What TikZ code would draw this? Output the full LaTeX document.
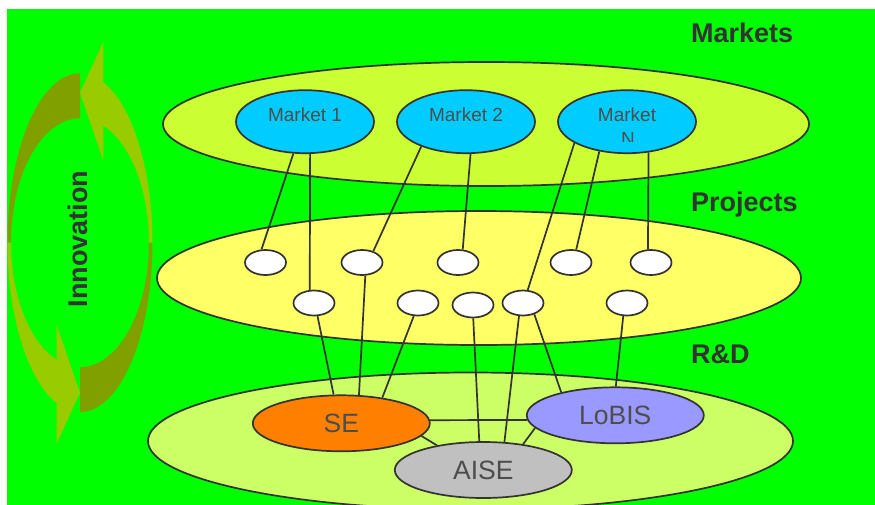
\documentclass[tikz,border=0pt]{standalone}
\usepackage{fontspec}
\setmainfont{Liberation Sans}
\usetikzlibrary{shapes.geometric}
\definecolor{bggreen}{HTML}{00FF00}
\definecolor{mktfill}{HTML}{CCFF33}
\definecolor{prjfill}{HTML}{FFFF66}
\definecolor{rdfill}{HTML}{CCFF66}
\definecolor{mnode}{HTML}{00CCFF}
\definecolor{sefill}{HTML}{FF8000}
\definecolor{lobisfill}{HTML}{9999FF}
\definecolor{aisefill}{HTML}{C0C0C0}
\definecolor{linec}{HTML}{333333}
\definecolor{headc}{HTML}{333333}
\definecolor{labc}{HTML}{4D4D4D}
\definecolor{olivedark}{RGB}{128,160,0}
\definecolor{olivelight}{HTML}{99CC00}
\begin{document}
\begin{tikzpicture}[x=1pt,y=-1pt,
  ell/.style={ellipse, draw=linec, line width=1.7pt, inner sep=0pt},
  bigell/.style={ell, minimum width=646pt, minimum height=126pt},
  mkt/.style={ell, fill=mnode, minimum width=138pt, minimum height=63pt},
  prj/.style={ell, fill=white, minimum width=41pt, minimum height=25pt},
  rd/.style={ell, minimum width=177pt, minimum height=56pt, text=labc,
     font=\fontsize{26.5}{30}\selectfont},
  mtext/.style={anchor=base, text=labc, inner sep=0pt, font=\fontsize{19}{22}\selectfont},
  head/.style={anchor=base west, inner sep=0pt, text=headc, font=\bfseries\fontsize{27}{32}\selectfont},
  conn/.style={draw=linec, line width=1.7pt}
]
\useasboundingbox (0,0) rectangle (875,504);
\fill[white] (0,0) rectangle (875,504);
\fill[bggreen] (7,9) rectangle (890,540);

% innovation cycle arrows
\fill[olivedark] plot[domain=270:180, samples=40, variable=\t] ({80+72.5*cos(\t)},{242.7+169.4*sin(\t)})
  -- plot[domain=180:270, samples=40, variable=\t] ({80+69*cos(\t)},{242.7+124.4*sin(\t)}) -- cycle;
\fill[olivelight] plot[domain=180:108.7, samples=40, variable=\t] ({80+72.5*cos(\t)},{242.7+169.4*sin(\t)})
  -- (56.7,443.3) -- (80,392.7) -- (56.7,325) -- (56.7,359.8)
  -- plot[domain=109.7:180, samples=40, variable=\t] ({80+69*cos(\t)},{242.7+124.4*sin(\t)}) -- cycle;
\begin{scope}[rotate around={180:(80,242.7)}]
  \fill[olivedark] plot[domain=270:180, samples=40, variable=\t] ({80+72.5*cos(\t)},{242.7+169.4*sin(\t)})
    -- plot[domain=180:270, samples=40, variable=\t] ({80+69*cos(\t)},{242.7+124.4*sin(\t)}) -- cycle;
  \fill[olivelight] plot[domain=180:108.7, samples=40, variable=\t] ({80+72.5*cos(\t)},{242.7+169.4*sin(\t)})
    -- (56.7,443.3) -- (80,392.7) -- (56.7,325) -- (56.7,359.8)
    -- plot[domain=109.7:180, samples=40, variable=\t] ({80+69*cos(\t)},{242.7+124.4*sin(\t)}) -- cycle;
\end{scope}
\node[rotate=90, inner sep=0pt, text=headc, font=\bfseries\fontsize{27}{32}\selectfont] (innov) at (77.5,239) {Innovation};

% headings
\node[head] (hm) at (691,42.7) {Markets};
\node[head] (hp) at (691,211) {Projects};
\node[head] (hr) at (691,363) {R\&D};

% big layers
\node[bigell, fill=mktfill, minimum height=124pt] (markets) at (486,124) {};
\node[bigell, fill=prjfill, minimum width=644pt, minimum height=134pt] (projects) at (479,278) {};
\node[bigell, fill=rdfill, minimum width=645pt, minimum height=137pt] (rdlayer) at (470.5,441) {};

% markets
\node[mkt] (M1) at (305,121.7) {};
\node[mkt] (M2) at (466,121.7) {};
\node[mkt] (MN) at (627,121.7) {};
\node[mtext] (M1t) at (305,121.7) {Market 1};
\node[mtext] (M2t) at (466,121.7) {Market 2};
\node[mtext] (MNt) at (627,121.7) {Market};
\begin{scope}
  \clip (560,100) rectangle (700,141.7);
  \node[mtext] (MNn) at (628,145) {N};
\end{scope}

% projects
\node[prj] (p1) at (265.5,262.5) {};
\node[prj] (p2) at (362,262.5) {};
\node[prj] (p3) at (458,262.5) {};
\node[prj] (p4) at (571,262.5) {};
\node[prj] (p5) at (651,262.5) {};
\node[prj] (q1) at (314,303) {};
\node[prj] (q2) at (418,303) {};
\node[prj] (q3) at (473,305) {};
\node[prj] (q4) at (523,303) {};
\node[prj] (q5) at (627,303) {};

% R&D groups
\node[rd, fill=sefill] (SE) at (341.3,423.3) {SE};
\node[rd, fill=lobisfill] (LoBIS) at (615.3,415.3) {LoBIS};
\node[rd, fill=aisefill] (AISE) at (483.3,470) {AISE};

% market -> project connectors
\draw[conn] (M1.-110.4) -- (p1.107);
\draw[conn] (M1.-81) -- (q1.108);
\draw[conn] (M2.-151) -- (p2.45);
\draw[conn] (M2.-82.8) -- (p3.70.6);
\draw[conn] (MN.-158) -- (q4.70.6);
\draw[conn] (MN.-133.8) -- (p4.68.9);
\draw[conn] (MN.-55.5) -- (p5.103.6);

% project -> R&D connectors
\draw[conn] (q1.-75) -- (SE.105.8);
\draw[conn] (p2.-76.4) -- (SE.58.5);
\draw[conn] (q2.-108) -- (SE.32);
\draw[conn] (q3.-89) -- (AISE.98.7);
\draw[conn] (q4.-107.5) -- (AISE.53);
\draw[conn] (q4.-45) -- (LoBIS.157.3);
\draw[conn] (q5.-106.7) -- (LoBIS.89);

% R&D internal
\draw[conn] (SE.2.1) -- (LoBIS.183);
\draw[conn] (SE.-9.3) -- (AISE.152.6);
\draw[conn] (LoBIS.189.1) -- (AISE.33.7);
\end{tikzpicture}
\end{document}
